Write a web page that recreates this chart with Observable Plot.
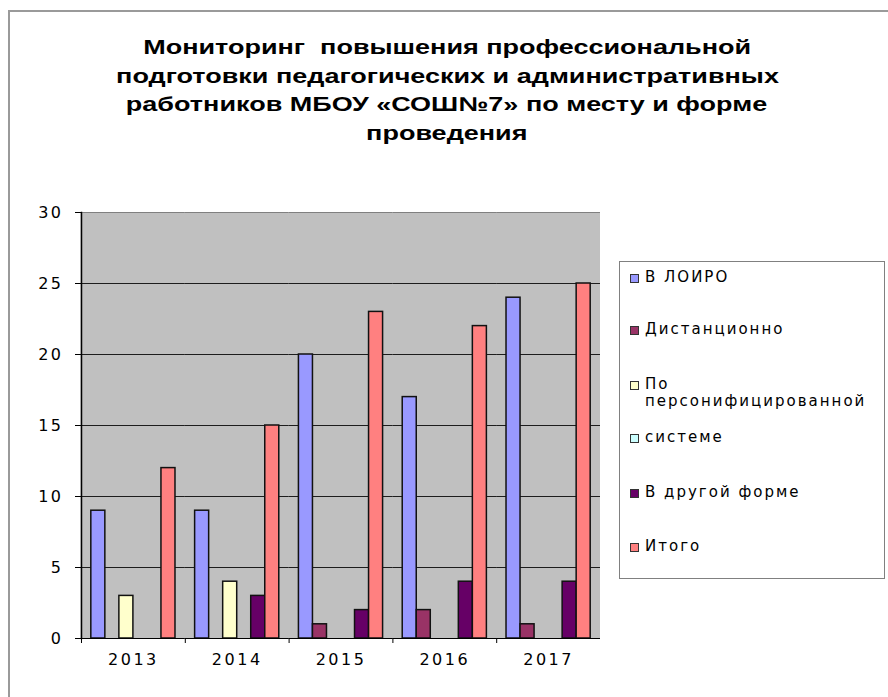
<!DOCTYPE html>
<html>
<head>
<meta charset="utf-8">
<script src="https://cdn.jsdelivr.net/npm/d3@7"></script>
<script src="https://cdn.jsdelivr.net/npm/@observablehq/plot@0.6"></script>
<style>
  html, body { margin: 0; padding: 0; background: #fff; }
  #wrap { position: relative; width: 888px; height: 697px; overflow: hidden; background: #fff; }
  #frame { position: absolute; left: 8px; top: 10px; width: 920px; height: 720px;
           border-left: 2px solid #9a9a9a; border-top: 2px solid #9a9a9a; }
  #title { position: absolute; left: 0; top: 33px; width: 894px; text-align: center;
           font: bold 20px "Liberation Sans", Arial, sans-serif; line-height: 28.5px; color: #000; }
  #title span { display: inline-block; transform: scaleX(1.35); transform-origin: 50% 50%; white-space: pre; }
  #chart { position: absolute; left: 0; top: 190px; }
  #legend { position: absolute; left: 619px; top: 261px; width: 266px; height: 318px;
            border: 1px solid #808080; box-sizing: border-box; background: #fff; }
  .item { position: absolute; left: 10px; display: flex; align-items: flex-start;
          font: 15px "DejaVu Sans", sans-serif; letter-spacing: 2px; color: #000; line-height: 17px; }
  .sw { width: 7px; height: 7px; border: 1px solid #333; margin-top: 5px; margin-right: 6px; flex: none; }
</style>
</head>
<body>
<div id="wrap">
  <div id="frame"></div>
  <div id="title"></div>
  <div id="chart"></div>
  <div id="legend"></div>
</div>
<script>
// ---- data ----
const titleLines = [
  "Мониторинг  повышения профессиональной",
  "подготовки педагогических и административных",
  "работников МБОУ «СОШ№7» по месту и форме",
  "проведения"
];
const years = ["2013", "2014", "2015", "2016", "2017"];
const series = ["В ЛОИРО", "Дистанционно", "По персонифицированной", "системе", "В другой форме", "Итого"];
const legendLabels = ["В ЛОИРО", "Дистанционно", "По\nперсонифицированной", "системе", "В другой форме", "Итого"];
const vLoiro    = [9, 9, 20, 17, 24];
const vDistance = [0, 0, 1, 2, 1];
const vPersonal = [3, 4, 0, 0, 0];
const vSystem   = [0, 0, 0, 0, 0];
const vOther    = [0, 3, 2, 4, 4];
const vTotal    = [12, 15, 23, 22, 25];
const colors = ["#9999ff", "#993366", "#ffffcc", "#ccffff", "#660066", "#ff8080"];
const yTicks = [0, 5, 10, 15, 20, 25, 30];

const seriesValues = [vLoiro, vDistance, vPersonal, vSystem, vOther, vTotal];
const data = years.flatMap((yr, i) => series.map((s, j) => ({year: yr, series: s, value: seriesValues[j][i]})));

// ---- title ----
document.getElementById("title").innerHTML = titleLines.map(l => `<span>${l}</span>`).join("<br>");

// ---- chart ----
const W = 600, ML = 81, MR = 0;
const facetStep = (W - ML - MR) / years.length;
const chart = Plot.plot({
  width: W,
  height: 490,
  marginLeft: ML,
  marginRight: MR,
  marginTop: 22,
  marginBottom: 42,
  style: {fontFamily: "'DejaVu Sans', sans-serif", fontSize: "16px", color: "#000", background: "transparent"},
  fx: {domain: years, padding: 0, label: null, round: false},
  x: {domain: series, paddingInner: 0, paddingOuter: 0.7, axis: null, round: false},
  y: {domain: [0, 30], label: null},
  color: {domain: series, range: colors},
  marks: [
    Plot.frame({fill: "#c0c0c0", stroke: null, insetLeft: -1, insetRight: -1}),
    Plot.gridY(yTicks.filter(t => t > 0 && t < 30), {stroke: "#000", strokeOpacity: 0.85}),
    Plot.gridY([30], {stroke: "#808080", strokeOpacity: 1}),
    Plot.barY(data.filter(d => d.value > 0), {
      fx: "year", x: "series", y: "value", fill: "series",
      stroke: "#111", strokeWidth: 1.5, inset: 0
    }),
    Plot.ruleY([0], {stroke: "#000", strokeWidth: 1.2}),
    Plot.frame({anchor: "left", facetAnchor: "left", stroke: "#000", strokeWidth: 1.5}),
    Plot.axisY(yTicks, {anchor: "left", tickSize: 6, tickPadding: 12, label: null, fontSize: 16}),
    Plot.axisFx({anchor: "bottom", tickSize: 5, tickFormat: () => "", label: null, dx: -facetStep / 2}),
    Plot.axisFx({anchor: "bottom", tickSize: 0, tickPadding: 15, label: null, fontSize: 16})
  ]
});
chart.querySelectorAll("text").forEach(t => t.style.letterSpacing = "2.5px");
document.getElementById("chart").appendChild(chart);

// ---- legend ----
const legendCenters = [277, 329, 384, 437, 492, 546];
const legend = document.getElementById("legend");
legendLabels.forEach((lab, i) => {
  const it = document.createElement("div");
  it.className = "item";
  it.style.top = (legendCenters[i] - 262 - 8.5) + "px";
  const sw = document.createElement("div");
  sw.className = "sw";
  sw.style.background = colors[i];
  const tx = document.createElement("div");
  tx.style.whiteSpace = "pre";
  tx.textContent = lab;
  it.appendChild(sw);
  it.appendChild(tx);
  legend.appendChild(it);
});
</script>
</body>
</html>
